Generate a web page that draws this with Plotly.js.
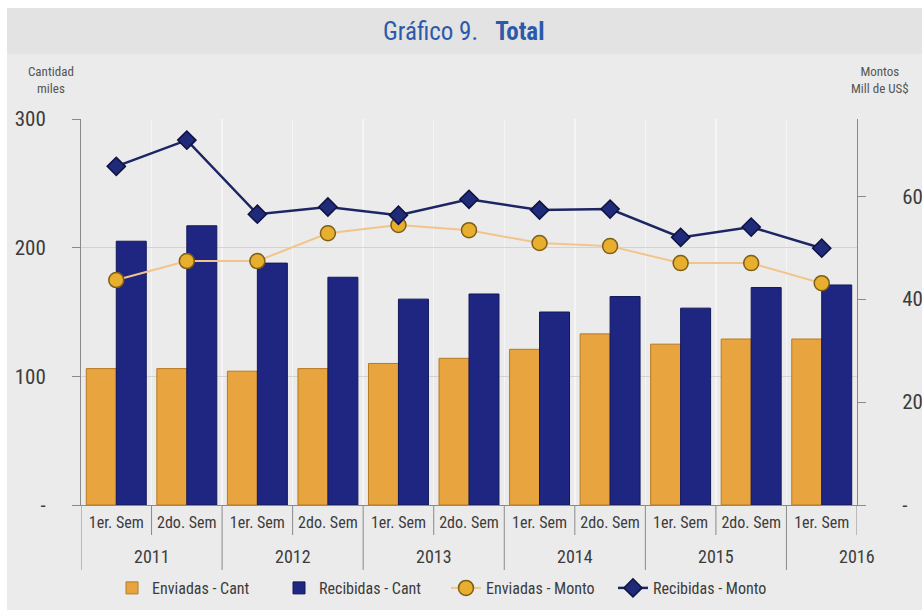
<!DOCTYPE html>
<html>
<head>
<meta charset="utf-8">
<script src="https://cdn.plot.ly/plotly-3.0.1.min.js"></script>
<style>
  html, body { margin: 0; padding: 0; background: #ffffff; }
  #chart { width: 922px; height: 610px; }
</style>
</head>
<body>
<div id="chart"></div>
<script>
// ---- Data ----
const periods = ["2011-1","2011-2","2012-1","2012-2","2013-1","2013-2","2014-1","2014-2","2015-1","2015-2","2016-1"];
const semLabels = ["1er. Sem","2do. Sem","1er. Sem","2do. Sem","1er. Sem","2do. Sem","1er. Sem","2do. Sem","1er. Sem","2do. Sem","1er. Sem"];
const periodYears = ["2011","2011","2012","2012","2013","2013","2014","2014","2015","2015","2016"];
const years = ["2011","2012","2013","2014","2015","2016"];

const enviadasCant   = [106, 106, 104, 106, 110, 114, 121, 133, 125, 129, 129];
const recibidasCant  = [205, 217, 188, 177, 160, 164, 150, 162, 153, 169, 171];
const enviadasMonto  = [43.7, 47.4, 47.4, 52.8, 54.4, 53.4, 50.9, 50.3, 47.0, 47.0, 43.1];
const recibidasMonto = [65.8, 70.9, 56.5, 57.9, 56.3, 59.4, 57.3, 57.5, 52.0, 54.0, 49.9];

const leftTicks = [0, 100, 200, 300];
const leftTickText = ["-", "100", "200", "300"];
const rightTicks = [0, 20, 40, 60];
const rightTickText = ["-", "20", "40", "60"];

// ---- Styling ----
const FONT = "Roboto Condensed, Liberation Sans Narrow, Arial Narrow, Roboto, sans-serif";
const ORANGE = "#E7A43F";
const NAVY = "#1F2682";
const TEXT = "#3c3c3c";

const traces = [
  {
    type: "bar", name: "Enviadas - Cant", x: periods, y: enviadasCant,
    marker: { color: ORANGE, line: { color: "#b67a22", width: 1 } },
    yaxis: "y", hoverinfo: "y"
  },
  {
    type: "bar", name: "Recibidas - Cant", x: periods, y: recibidasCant,
    marker: { color: NAVY, line: { color: "#121858", width: 1 } },
    yaxis: "y", hoverinfo: "y"
  },
  {
    type: "scatter", mode: "lines+markers", name: "Enviadas - Monto", x: periods, y: enviadasMonto,
    yaxis: "y2",
    line: { color: "#F3C489", width: 2 },
    marker: { symbol: "circle", size: 15, color: "#E8AE2E", line: { color: "#7d5e17", width: 1.5 } }
  },
  {
    type: "scatter", mode: "lines+markers", name: "Recibidas - Monto", x: periods, y: recibidasMonto,
    yaxis: "y2",
    line: { color: "#1E2563", width: 2.5 },
    marker: { symbol: "diamond", size: 14, color: "#1F2A78", line: { color: "#0d1240", width: 1.5 } }
  }
];

// ---- Shapes: backgrounds & category separators ----
const L = 81, R = 857, T = 119, B = 505, W = 922, H = 610;
const px = v => (v - L) / (R - L);
const py = v => (B - v) / (B - T);

const shapes = [
  { type: "rect", xref: "paper", yref: "paper", x0: px(0), x1: px(W), y0: py(8), y1: py(0),
    fillcolor: "#ffffff", line: { width: 0 }, layer: "below" },
  { type: "rect", xref: "paper", yref: "paper", x0: px(0), x1: px(7), y0: py(H), y1: py(0),
    fillcolor: "#ffffff", line: { width: 0 }, layer: "below" },
  { type: "rect", xref: "paper", yref: "paper", x0: px(7), x1: px(W), y0: py(54), y1: py(8),
    fillcolor: "#e3e3e3", line: { width: 0 }, layer: "below" }
];

for (let i = 0; i <= periods.length; i++) {
  const xb = i - 0.5;
  const isYearStart = (i === 0) || (i < periods.length && periodYears[i] !== periodYears[i - 1]);
  const len = isYearStart ? 65 : 30;
  shapes.push({
    type: "line", xref: "x", yref: "paper",
    x0: xb, x1: xb, y0: 0, y1: -len / (B - T),
    line: { color: "#8a8a8a", width: 1 }
  });
}

// ---- Annotations ----
const annotations = [];
years.forEach(yr => {
  const first = periodYears.indexOf(yr);
  annotations.push({
    text: yr, xref: "x", yref: "paper", x: first + 0.5, y: py(556),
    xanchor: "center", yanchor: "middle", showarrow: false,
    font: { family: FONT, size: 18, color: TEXT }
  });
});
annotations.push({
  text: "Cantidad<br>miles", xref: "paper", yref: "paper", x: px(51), y: py(80),
  xanchor: "center", yanchor: "middle", showarrow: false, align: "center",
  font: { family: FONT, size: 13, color: "#555" }
});
annotations.push({
  text: "Montos<br>Mill de US$", xref: "paper", yref: "paper", x: px(880), y: py(80),
  xanchor: "center", yanchor: "middle", showarrow: false, align: "center",
  font: { family: FONT, size: 13, color: "#555" }
});

const layout = {
  width: W, height: H,
  margin: { l: L, r: W - R, t: T, b: H - B, pad: 0, autoexpand: false },
  paper_bgcolor: "#ebebeb",
  plot_bgcolor: "rgba(0,0,0,0)",
  font: { family: FONT, color: TEXT },
  title: {
    text: "Gráfico 9.&nbsp;&nbsp;&nbsp;<b>Total</b>",
    font: { family: FONT, size: 25, color: "#2B5AAA" },
    x: 0.503, xanchor: "center", y: 1 - 31 / H, yanchor: "middle", xref: "container", yref: "container"
  },
  barmode: "group",
  bargap: 0.15,
  bargroupgap: 0,
  showlegend: true,
  legend: {
    orientation: "h", xref: "container", yref: "container",
    x: 112 / W, xanchor: "left", y: 1 - 588 / H, yanchor: "middle",
    font: { family: FONT, size: 16, color: TEXT }, bgcolor: "rgba(0,0,0,0)",
    itemwidth: 30, entrywidth: 122, entrywidthmode: "pixels", tracegroupgap: 0
  },
  xaxis: {
    type: "category",
    range: [-0.5, periods.length - 0.5],
    tickmode: "array", tickvals: periods, ticktext: semLabels, tickangle: 0,
    tickfont: { family: FONT, size: 16, color: TEXT },
    ticks: "", showline: true, linecolor: "#8a8a8a", linewidth: 1,
    showgrid: true, gridcolor: "#f5f5f5", gridwidth: 1.5, tickson: "boundaries",
    ticklabelstandoff: 3, fixedrange: true
  },
  yaxis: {
    range: [0, 300], tickmode: "array", tickvals: leftTicks, ticktext: leftTickText,
    tickfont: { family: FONT, size: 21, color: TEXT },
    ticks: "outside", ticklen: 8, tickcolor: "#8a8a8a",
    showline: true, linecolor: "#8a8a8a", linewidth: 1,
    showgrid: true, gridcolor: "#d3d3d3", gridwidth: 1, zeroline: false,
    ticklabelstandoff: 22, fixedrange: true
  },
  yaxis2: {
    overlaying: "y", side: "right",
    range: [0, 75], tickmode: "array", tickvals: rightTicks, ticktext: rightTickText,
    tickfont: { family: FONT, size: 21, color: TEXT },
    ticks: "outside", ticklen: 8, tickcolor: "#8a8a8a",
    showline: true, linecolor: "#8a8a8a", linewidth: 1,
    showgrid: false, zeroline: false,
    ticklabelstandoff: 32, fixedrange: true
  },
  shapes: shapes,
  annotations: annotations
};

Plotly.newPlot("chart", traces, layout, { displayModeBar: false, staticPlot: true });
</script>
</body>
</html>
